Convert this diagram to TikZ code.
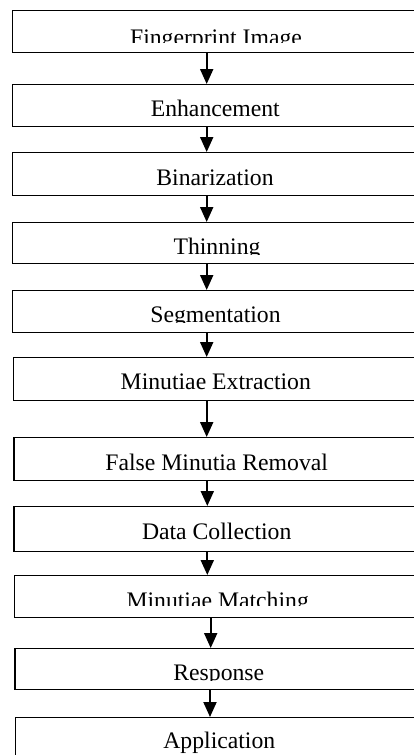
\documentclass[tikz,border=0pt]{standalone}
\usepackage{fontspec}
\setmainfont{Liberation Serif}
\usetikzlibrary{arrows.meta}
\begin{document}
\begin{tikzpicture}[x=1pt,y=-1pt,
  stepbox/.style={draw,line width=1.3pt,rectangle,minimum width=410pt,inner sep=0pt,anchor=north west},
  lbl/.style={anchor=base,inner sep=0pt,font=\fontsize{23.7}{28}\selectfont},
  arr/.style={line width=2pt,-{Triangle[width=13pt,length=15pt]}}]
\useasboundingbox (0,0) rectangle (413,755);
% text labels (some clipped as in the original)
\begin{scope}\clip (0,10) rectangle (413,42.7);
\node[lbl] (t1) at (216,45) {Fingerprint Image};
\end{scope}
\node[lbl] (t2) at (215.3,116.7) {Enhancement};
\node[lbl] (t3) at (215,185) {Binarization};
\begin{scope}\clip (0,222) rectangle (413,254);
\node[lbl] (t4) at (217,254.2) {Thinning};
\end{scope}
\begin{scope}\clip (0,290) rectangle (413,322.7);
\node[lbl] (t5) at (215.5,322.5) {Segmentation};
\end{scope}
\node[lbl] (t6) at (215.8,389.3) {Minutiae Extraction};
\node[lbl] (t7) at (216.7,470) {False Minutia Removal};
\node[lbl] (t8) at (216.7,539.3) {Data Collection};
\begin{scope}\clip (0,575) rectangle (413,605);
\node[lbl] (t9) at (217.7,608.3) {Minutiae Matching};
\end{scope}
\begin{scope}\clip (0,648) rectangle (413,680);
\node[lbl] (t10) at (218.8,680.6) {Response};
\end{scope}
\node[lbl] (t11) at (219.3,748.3) {Application};
% boxes
\node[stepbox,minimum height=42pt] (b1) at (12,10) {};
\node[stepbox,minimum height=42pt] (b2) at (12,84) {};
\node[stepbox,minimum height=43pt] (b3) at (12,152) {};
\node[stepbox,minimum height=41pt] (b4) at (12,222) {};
\node[stepbox,minimum height=42pt] (b5) at (11.7,290) {};
\node[stepbox,minimum height=43pt] (b6) at (12.7,357) {};
\node[stepbox,minimum height=43pt] (b7) at (13.3,437) {};
\node[stepbox,minimum height=45pt] (b8) at (13.3,506) {};
\node[stepbox,minimum height=42pt] (b9) at (14,575) {};
\node[stepbox,minimum height=41pt] (b10) at (14.3,648) {};
\node[stepbox,minimum height=70pt] (b11) at (15,717) {};
% arrow columns
\coordinate (x1) at (206.7,0);
\coordinate (x2) at (206.7,0);
\coordinate (x3) at (206.7,0);
\coordinate (x4) at (206.7,0);
\coordinate (x5) at (206.7,0);
\coordinate (x6) at (206.7,0);
\coordinate (x7) at (207.3,0);
\coordinate (x8) at (207.3,0);
\coordinate (x9) at (210.7,0);
\coordinate (x10) at (210,0);
\draw[arr] (b1.south -| x1) -- (b2.north -| x1);
\draw[arr] (b2.south -| x2) -- (b3.north -| x2);
\draw[arr] (b3.south -| x3) -- (b4.north -| x3);
\draw[arr] (b4.south -| x4) -- (b5.north -| x4);
\draw[arr] (b5.south -| x5) -- (b6.north -| x5);
\draw[arr] (b6.south -| x6) -- (b7.north -| x6);
\draw[arr] (b7.south -| x7) -- (b8.north -| x7);
\draw[arr] (b8.south -| x8) -- (b9.north -| x8);
\draw[arr] (b9.south -| x9) -- (b10.north -| x9);
\draw[arr] (b10.south -| x10) -- (b11.north -| x10);
\end{tikzpicture}
\end{document}
